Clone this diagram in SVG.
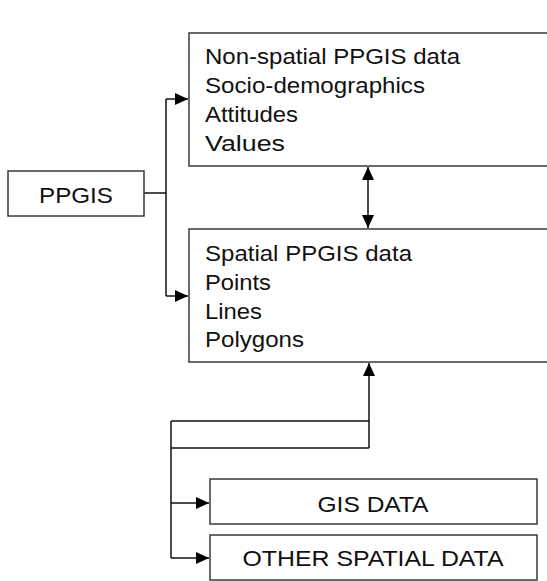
<svg xmlns="http://www.w3.org/2000/svg" width="547" height="581" viewBox="0 0 547 581">
<defs>
<style>
.box{fill:#fff;stroke:#3a3a3a;stroke-width:1.5}
.ln{fill:none;stroke:#111;stroke-width:1.5}
.t{font-family:"Liberation Sans",Arial,sans-serif;font-size:22.5px;fill:#111}
.c{text-anchor:middle}
</style>
<marker id="ah" viewBox="0 0 13 12" refX="13" refY="6" markerWidth="13" markerHeight="12" markerUnits="userSpaceOnUse" orient="auto-start-reverse">
<path d="M0,0 L13,6 L0,12 Z" fill="#000"/>
</marker>
</defs>
<rect width="547" height="581" fill="#fff"/>
<g id="connectors">
<path class="ln" d="M144,193 H166"/>
<path class="ln" d="M166,99 V296"/>
<path class="ln" d="M166,99 H188" marker-end="url(#ah)"/>
<path class="ln" d="M166,296 H188" marker-end="url(#ah)"/>
<path class="ln" d="M368,167 V228" marker-start="url(#ah)" marker-end="url(#ah)"/>
<path class="ln" d="M369,448 V363" marker-end="url(#ah)"/>
<path class="ln" d="M369,448 H171"/>
<path class="ln" d="M171,421 H369"/>
<path class="ln" d="M171,421 V558"/>
<path class="ln" d="M171,503 H209" marker-end="url(#ah)"/>
<path class="ln" d="M171,558 H209" marker-end="url(#ah)"/>
</g>
<g id="ppgis">
<rect class="box" x="8" y="171" width="136" height="45"/>
<text class="t c" x="76" y="203" textLength="74" lengthAdjust="spacingAndGlyphs">PPGIS</text>
</g>
<g id="nonspatial">
<rect class="box" x="189" y="33" width="380" height="133"/>
<text class="t" x="205" y="64" textLength="255" lengthAdjust="spacingAndGlyphs">Non-spatial PPGIS data</text>
<text class="t" x="205" y="93" textLength="220" lengthAdjust="spacingAndGlyphs">Socio-demographics</text>
<text class="t" x="205" y="122" textLength="93" lengthAdjust="spacingAndGlyphs">Attitudes</text>
<text class="t" x="205" y="151" textLength="80" lengthAdjust="spacingAndGlyphs">Values</text>
</g>
<g id="spatial">
<rect class="box" x="189" y="229" width="380" height="133"/>
<text class="t" x="205" y="261" textLength="207" lengthAdjust="spacingAndGlyphs">Spatial PPGIS data</text>
<text class="t" x="205" y="290" textLength="66" lengthAdjust="spacingAndGlyphs">Points</text>
<text class="t" x="205" y="319" textLength="57" lengthAdjust="spacingAndGlyphs">Lines</text>
<text class="t" x="205" y="347" textLength="99" lengthAdjust="spacingAndGlyphs">Polygons</text>
</g>
<g id="gisdata">
<rect class="box" x="210" y="479" width="327" height="45"/>
<text class="t c" x="373" y="512" textLength="111" lengthAdjust="spacingAndGlyphs">GIS DATA</text>
</g>
<g id="otherspatial">
<rect class="box" x="210" y="535" width="327" height="45"/>
<text class="t c" x="373" y="566" textLength="261" lengthAdjust="spacingAndGlyphs">OTHER SPATIAL DATA</text>
</g>
</svg>
